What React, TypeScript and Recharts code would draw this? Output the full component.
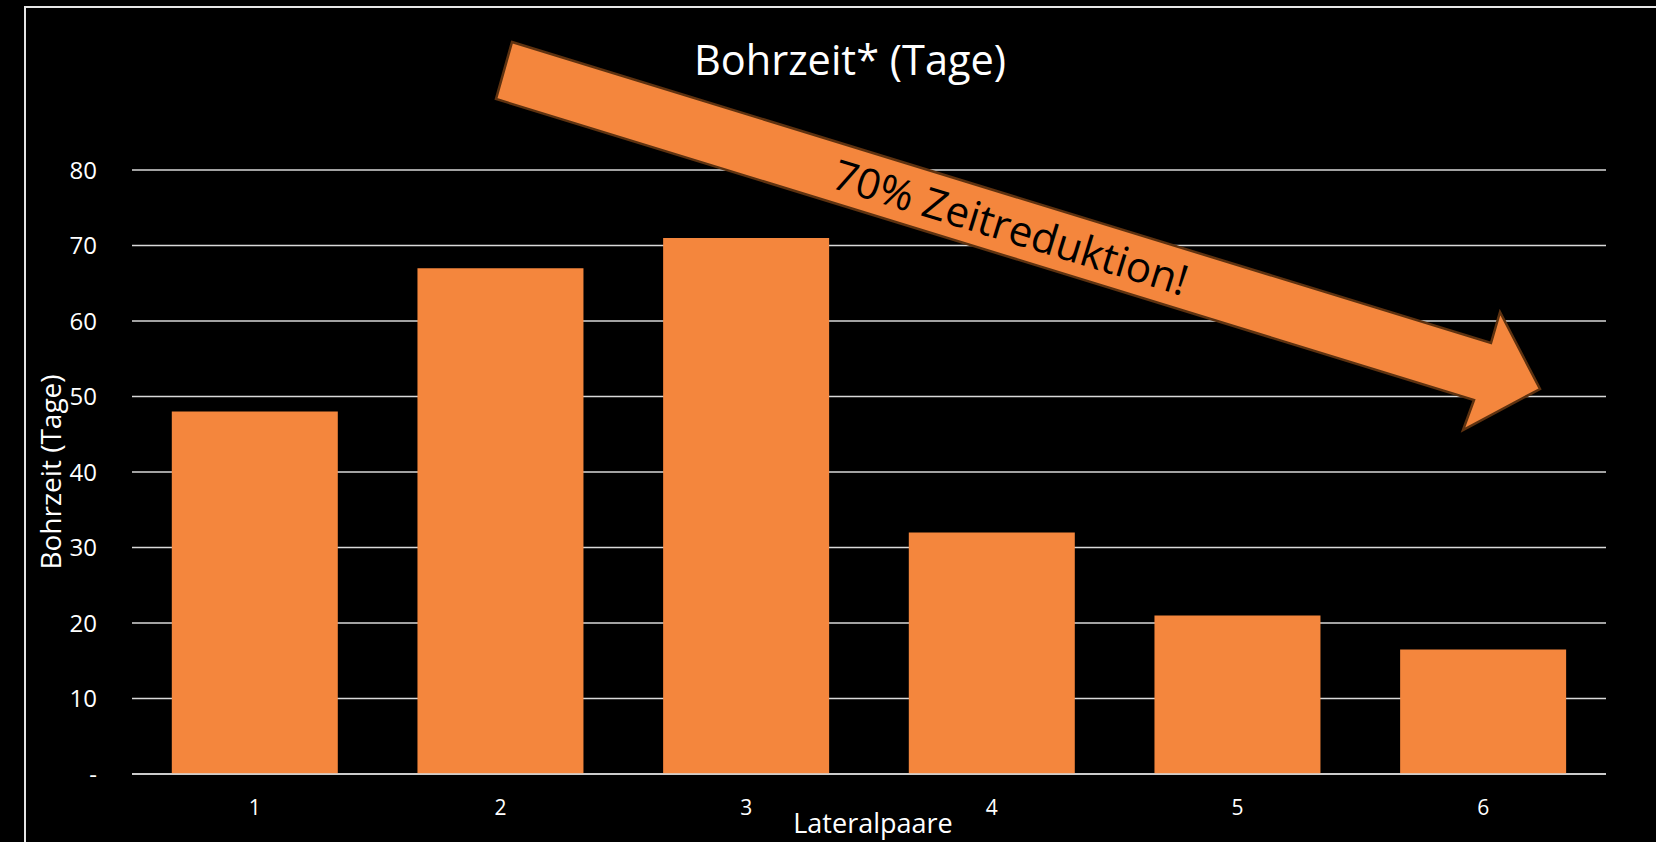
import { BarChart, Bar, XAxis, YAxis, CartesianGrid, Label } from 'recharts';

const lateralpaare = ['1', '2', '3', '4', '5', '6'];
const bohrzeitTage = [48, 67, 71, 32, 21, 16.5];
const yTicks = [0, 10, 20, 30, 40, 50, 60, 70, 80];

const data = lateralpaare.map((name, i) => ({ name, tage: bohrzeitTage[i] }));

const FONT = '"Open Sans", Lato, sans-serif';
const ORANGE = '#f4863d';
const GRID = '#d9d9d9';

// block arrow annotation (slide shape, not data)
const arrowPoints = '512,42 1491,343 1500,312 1540,389 1463,430 1474,400 496,99';

export default function App() {
  return (
    <div style={{ position: 'relative', width: 1656, height: 842, background: '#000', fontFamily: FONT }}>
      <style>{`body{margin:0;background:#000}`}</style>
      <BarChart
        width={1656}
        height={842}
        data={data}
        margin={{ top: 170, right: 50, bottom: 8, left: 0 }}
        barCategoryGap="16.2%"
      >
        <CartesianGrid vertical={false} stroke={GRID} strokeWidth={1.5} />
        <XAxis
          dataKey="name"
          height={60}
          axisLine={{ stroke: GRID, strokeWidth: 1.5 }}
          tickLine={false}
          tickSize={0}
          tickMargin={26}
          tick={{ fill: '#fff', fontSize: 21, fontFamily: FONT }}
        >
          <Label value="Lateralpaare" position="center" dx={4} dy={19} fill="#fff" fontSize={27} fontFamily={FONT} />
        </XAxis>
        <YAxis
          width={132}
          domain={[0, 80]}
          ticks={yTicks}
          axisLine={false}
          tickLine={false}
          tickSize={0}
          tickMargin={35}
          tickFormatter={(v: number) => (v === 0 ? '-' : String(v))}
          tick={{ fill: '#fff', fontSize: 24, fontFamily: FONT }}
        >
          <Label value="Bohrzeit (Tage)" position="center" angle={-90} dx={-15} fill="#fff" fontSize={28} fontFamily={FONT} />
        </YAxis>
        <Bar dataKey="tage" fill={ORANGE} isAnimationActive={false} />
      </BarChart>
      <svg
        width={1656}
        height={842}
        style={{ position: 'absolute', left: 0, top: 0, pointerEvents: 'none' }}
      >
        <rect x={25} y={7} width={1700} height={900} fill="none" stroke="#e6e6e6" strokeWidth={2} />
        <text x={850} y={75} textAnchor="middle" fill="#fff" fontSize={41.5} fontFamily={FONT}>
          Bohrzeit* (Tage)
        </text>
        <polygon points={arrowPoints} fill={ORANGE} stroke="#5e3210" strokeWidth={2.5} strokeLinejoin="miter" />
        <text
          x={1011}
          y={226}
          textAnchor="middle"
          dominantBaseline="central"
          fill="#000"
          fontSize={42}
          fontFamily={FONT}
          transform="rotate(17.1 1011 226)"
        >
          70% Zeitreduktion!
        </text>
      </svg>
    </div>
  );
}
